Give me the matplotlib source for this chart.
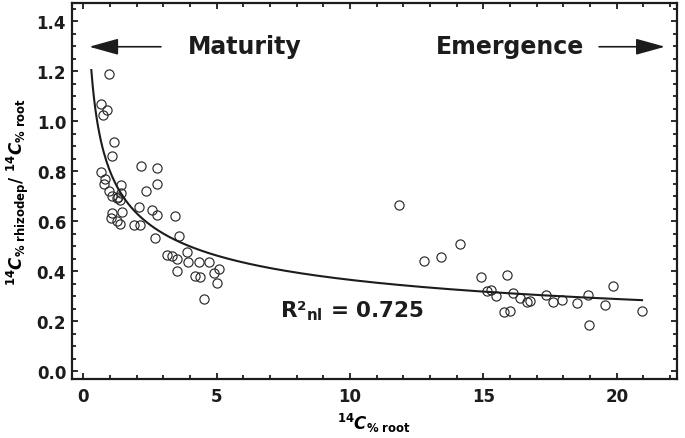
#!/usr/bin/env python3
"""Rhizodeposition ratio vs 14C in roots, with power-law fit."""

import matplotlib
matplotlib.use("Agg")
import matplotlib.pyplot as plt
import numpy as np
from matplotlib.ticker import MultipleLocator

root_pct = [
    0.96, 0.67, 0.88, 0.73, 1.15, 1.09, 2.15, 2.75, 0.67, 0.80,
    0.76, 1.41, 2.77, 2.35, 0.97, 1.08, 1.25, 1.38, 1.41, 1.31,
    2.09, 2.59, 2.77, 3.43, 1.46, 1.09, 1.03, 1.25, 1.38, 1.90,
    2.13, 2.68, 3.60, 3.13, 3.31, 3.50, 3.88, 3.93, 4.33, 4.71,
    5.08, 4.90, 3.50, 4.19, 4.39, 5.00, 4.53,
    11.83, 12.76, 13.40, 14.11, 14.91, 15.89, 15.13, 15.30, 15.47, 16.11,
    16.37, 16.65, 16.76, 15.78, 16.01, 17.34, 17.60, 17.94, 18.52, 18.91,
    18.96, 19.56, 19.87, 20.94,
]
ratio = [
    1.190, 1.069, 1.046, 1.026, 0.918, 0.862, 0.822, 0.813, 0.796, 0.769,
    0.749, 0.745, 0.749, 0.722, 0.722, 0.702, 0.693, 0.686, 0.713, 0.696,
    0.658, 0.644, 0.626, 0.620, 0.637, 0.632, 0.612, 0.600, 0.588, 0.585,
    0.585, 0.534, 0.542, 0.464, 0.460, 0.448, 0.478, 0.438, 0.436, 0.436,
    0.410, 0.394, 0.402, 0.382, 0.378, 0.353, 0.289,
    0.665, 0.442, 0.456, 0.508, 0.376, 0.385, 0.322, 0.325, 0.302, 0.314,
    0.293, 0.276, 0.282, 0.236, 0.241, 0.304, 0.277, 0.286, 0.272, 0.305,
    0.184, 0.266, 0.342, 0.242,
]

# nonlinear fit y = a * x^b
fit_a, fit_b = 0.80, -0.34
fit_range = (0.30, 20.95)
r2_nl = 0.725

ink = "#1c1c1c"
plt.rcParams.update({
    "font.family": "DejaVu Sans",
    "font.weight": "bold",
    "mathtext.fontset": "custom",
    "mathtext.rm": "DejaVu Sans:bold",
    "mathtext.it": "DejaVu Sans:italic:bold",
    "mathtext.bf": "DejaVu Sans:bold",
    "text.color": ink,
    "axes.edgecolor": ink,
    "xtick.color": ink,
    "ytick.color": ink,
})

fig = plt.figure(figsize=(6.85, 4.39), dpi=100)
ax = fig.add_axes([0.1047, 0.1344, 0.8832, 0.8565])

ax.plot(root_pct, ratio, "o", ms=6.6, mfc="none", mec="#2a2a2a", mew=0.85)

xf = np.linspace(*fit_range, 400)
ax.plot(xf, fit_a * xf ** fit_b, color=ink, lw=1.5)

ax.set_xlim(-0.435, 22.25)
ax.set_ylim(-0.031, 1.473)
ax.xaxis.set_major_locator(MultipleLocator(5))
ax.xaxis.set_minor_locator(MultipleLocator(1))
ax.yaxis.set_major_locator(MultipleLocator(0.2))
ax.yaxis.set_minor_locator(MultipleLocator(0.05))
ax.yaxis.set_major_formatter(matplotlib.ticker.FormatStrFormatter("%.1f"))
ax.tick_params(which="both", direction="in", top=True, right=True, width=1.3)
ax.tick_params(which="major", length=4, labelsize=12)
ax.tick_params(which="minor", length=3)
ax.tick_params(axis="x", pad=6)
ax.tick_params(axis="y", pad=4)
for s in ax.spines.values():
    s.set_linewidth(1.6)

ax.set_xlabel(r"$^{14}C_{\%\ \mathrm{root}}$", fontsize=12, labelpad=4)
ax.set_ylabel(r"$^{14}C_{\%\ \mathrm{rhizodep}}/\ ^{14}C_{\%\ \mathrm{root}}$",
              fontsize=12, labelpad=4)

ax.text(6.05, 1.272, "Maturity", fontsize=17, ha="center", va="baseline")
ax.text(16.0, 1.272, "Emergence", fontsize=17, ha="center", va="baseline")
arrow = dict(arrowstyle="-|>,head_length=0.9,head_width=0.25",
             mutation_scale=20, color=ink, lw=1.2, shrinkA=0, shrinkB=0)
ax.annotate("", xy=(0.22, 1.298), xytext=(2.91, 1.298), arrowprops=arrow)
ax.annotate("", xy=(21.81, 1.298), xytext=(19.34, 1.298), arrowprops=arrow)

ax.text(10.06, 0.22, "R²$_{\\mathrm{nl}}$ = %.3f" % r2_nl, fontsize=15.5,
        ha="center", va="baseline")

fig.savefig("out.png", dpi=100)
